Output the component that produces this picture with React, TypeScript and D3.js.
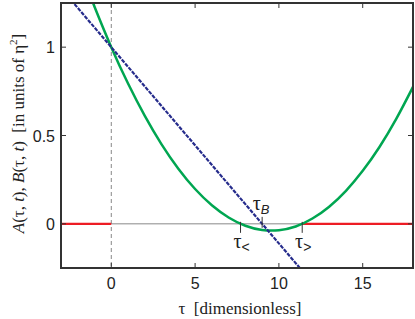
import * as d3 from 'd3';

const tau = [-1.5, -1, 0, 1, 2, 3, 4, 5, 6, 7, 8, 9, 10, 11, 12, 13, 14, 15, 16, 17, 18];
const aValues = [1.352, 1.229, 1.0, 0.794, 0.611, 0.45, 0.312, 0.197, 0.105, 0.036, -0.011, -0.035, -0.036, -0.015, 0.03, 0.097, 0.187, 0.3, 0.435, 0.594, 0.775];
const bTau = [-3, 0, 9];
const bValues = [1.333, 1.0, 0];
const tauLess = 7.71;
const tauGreater = 11.39;
const tauB = 9;
const xTicks = [0, 5, 10, 15];
const yTicks = [0, 0.5, 1];
const yTickLabels = ['0', '0.5', '1'];

const W = 415;
const H = 319;
const m = { left: 61, right: 2, top: 3, bottom: 51 };

const serif = { fontFamily: 'Liberation Serif' };
const sans = { fontFamily: 'Liberation Sans' };

export default function App() {
  const x = d3.scaleLinear().domain([-3, 18]).range([m.left, W - m.right]);
  const y = d3.scaleLinear().domain([-0.25, 1.25]).range([H - m.bottom, m.top]);

  const green = d3
    .line<number>()
    .x((_, i) => x(tau[i]))
    .y((d) => y(d))
    .curve(d3.curveNatural)(aValues)!;

  // extend B line across the full plot
  const bSlope = (bValues[2] - bValues[1]) / (bTau[2] - bTau[1]);
  const bLine = d3
    .line<number>()
    .x((t) => x(t))
    .y((t) => y(bValues[1] + bSlope * t))([bTau[0], 18])!;

  const x0 = m.left;
  const x1 = W - m.right;
  const y0 = m.top;
  const y1 = H - m.bottom;

  return (
    <div style={{ position: 'absolute', left: 0, top: 0 }}>
      <svg width={W} height={H} style={{ display: 'block' }}>
        <defs>
          <clipPath id="plot">
            <rect x={x0} y={y0} width={x1 - x0} height={y1 - y0} />
          </clipPath>
        </defs>
        <rect width={W} height={H} fill="#fff" />

        <g clipPath="url(#plot)">
          <line x1={x(0)} x2={x(0)} y1={y0} y2={y1} stroke="#888" strokeWidth={1} strokeDasharray="4,3" />
          <line x1={x(0)} x2={x(tauGreater)} y1={y(0)} y2={y(0)} stroke="#888" strokeWidth={1} />
          <line x1={x(-3)} x2={x(0)} y1={y(0)} y2={y(0)} stroke="#ED1C24" strokeWidth={2.2} />
          <line x1={x(tauGreater)} x2={x(18)} y1={y(0)} y2={y(0)} stroke="#ED1C24" strokeWidth={2.2} />
          <path d={green} fill="none" stroke="#00A651" strokeWidth={2.5} />
          <path d={bLine} fill="none" stroke="#262C8C" strokeWidth={2.2} strokeDasharray="4,1.2" />
        </g>

        {/* markers at tau<, tau>, tauB */}
        <line x1={x(tauLess)} x2={x(tauLess)} y1={y(0) - 2} y2={y(0) + 9} stroke="#333" strokeWidth={1} />
        <line x1={x(tauGreater)} x2={x(tauGreater)} y1={y(0) - 2} y2={y(0) + 9} stroke="#333" strokeWidth={1} />
        <line x1={x(tauB)} x2={x(tauB)} y1={y(0) - 7} y2={y(0) + 4} stroke="#333" strokeWidth={1} />
        <text x={x(tauB) - 1} y={y(0) - 14} style={serif} fontSize={20} textAnchor="middle" fill="#222">
          τ<tspan style={sans} fontStyle="italic" fontSize={13} dy={4}>B</tspan>
        </text>
        <text x={x(tauLess) + 1} y={y(0) + 24} style={serif} fontSize={20} textAnchor="middle" fill="#222">
          τ<tspan style={sans} fontSize={14} dy={4}>&lt;</tspan>
        </text>
        <text x={x(tauGreater) + 1} y={y(0) + 24} style={serif} fontSize={20} textAnchor="middle" fill="#222">
          τ<tspan style={sans} fontSize={14} dy={4}>&gt;</tspan>
        </text>

        {/* ticks */}
        {xTicks.map((t) => (
          <g key={'x' + t}>
            <line x1={x(t)} x2={x(t)} y1={y1} y2={y1 - 5} stroke="#333" />
            <line x1={x(t)} x2={x(t)} y1={y0} y2={y0 + 5} stroke="#333" />
            <text x={x(t)} y={y1 + 21} style={sans} fontSize={16} textAnchor="middle" fill="#222">
              {t}
            </text>
          </g>
        ))}
        {yTicks.map((v, i) => (
          <g key={'y' + v}>
            <line x1={x0} x2={x0 + 5} y1={y(v)} y2={y(v)} stroke="#333" />
            <line x1={x1} x2={x1 - 5} y1={y(v)} y2={y(v)} stroke="#333" />
            <text x={x0 - 6} y={y(v) + 6} style={sans} fontSize={16} textAnchor="end" fill="#222">
              {yTickLabels[i]}
            </text>
          </g>
        ))}

        <rect x={x0} y={y0} width={x1 - x0} height={y1 - y0} fill="none" stroke="#333" strokeWidth={2} />

        <text x={(x0 + x1) / 2 + 3} y={H - 5} style={serif} fontSize={17} textAnchor="middle" fill="#222" xmlSpace="preserve">
          τ  [dimensionless]
        </text>
        <text
          transform={`translate(24,${(y0 + y1) / 2 - 2}) rotate(-90)`}
          style={serif}
          fontSize={17}
          textAnchor="middle"
          fill="#222"
          xmlSpace="preserve"
        >
          <tspan fontStyle="italic">A</tspan>(τ, <tspan fontStyle="italic">t</tspan>), <tspan fontStyle="italic">B</tspan>(τ, <tspan fontStyle="italic">t</tspan>)  [in units of η<tspan fontSize={11} dy={-7}>2</tspan><tspan dy={7}>]</tspan>
        </text>
      </svg>
    </div>
  );
}
